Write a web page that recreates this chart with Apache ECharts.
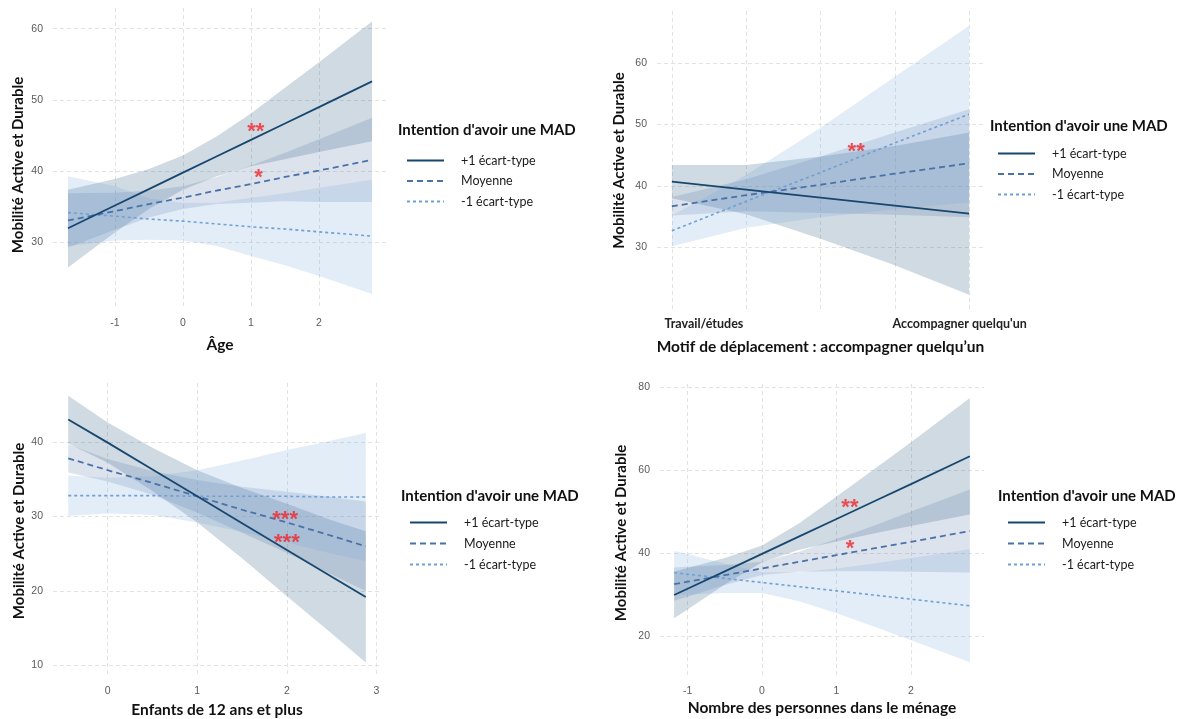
<!DOCTYPE html>
<html>
<head>
<meta charset="utf-8">
<script src="https://cdn.jsdelivr.net/npm/echarts@6/dist/echarts.min.js"></script>
<style>
html,body{margin:0;padding:0;background:#fff;}
#chart{width:1189px;height:719px;}
</style>
</head>
<body>
<div id="chart"></div>
<script>
// ---------- shared texts ----------
const seriesNames = ['+1 écart-type', 'Moyenne', '-1 écart-type'];
const legendTitle = "Intention d'avoir une MAD";
const yTitle = 'Mobilité Active et Durable';
const xTitles = ['Âge', 'Motif de déplacement : accompagner quelqu’un', 'Enfants de 12 ans et plus', 'Nombre des personnes dans le ménage'];

// ---------- Panel 1 : Âge ----------
const p1X = [-1.69, -1, -0.5, 0, 0.5, 1, 1.5, 2, 2.78];
const p1HiLine = [32.0, 35.2, 37.5, 39.8, 42.1, 44.4, 46.7, 49.0, 52.6];
const p1HiLow  = [26.5, 31.4, 34.7, 37.4, 39.3, 40.7, 41.7, 42.7, 44.2];
const p1HiUp   = [37.4, 38.9, 40.3, 42.2, 44.9, 48.1, 51.7, 55.3, 61.0];
const p1MidLine = [33.1, 34.4, 35.4, 36.3, 37.3, 38.2, 39.2, 40.1, 41.6];
const p1MidLow  = [29.3, 31.8, 33.5, 34.7, 35.4, 35.6, 35.8, 35.7, 35.7];
const p1MidUp   = [36.9, 37.0, 37.3, 37.9, 39.2, 40.8, 42.6, 44.5, 47.5];
const p1LoLine = [34.2, 33.7, 33.3, 33.0, 32.6, 32.2, 31.9, 31.5, 30.9];
const p1LoLow  = [29.5, 30.3, 30.4, 30.3, 29.5, 28.1, 26.8, 25.3, 22.8];
const p1LoUp   = [39.3, 37.9, 36.2, 35.6, 35.6, 36.3, 36.9, 37.7, 38.8];
const p1Stars = [[1.07, 46.4, '**'], [1.11, 39.9, '*']];
const p1XTicks = [-1, 0, 1, 2];
const p1YTicks = [30, 40, 50, 60];

// ---------- Panel 2 : Motif ----------
const p2X = [0, 0.25, 0.5, 0.75, 1];
const p2HiLine = [40.7, 39.4, 38.1, 36.8, 35.5];
const p2HiLow  = [38.0, 35.4, 31.4, 27.1, 22.3];
const p2HiUp   = [43.4, 43.4, 44.8, 46.5, 48.7];
const p2MidLine = [36.7, 38.5, 40.2, 42.0, 43.7];
const p2MidLow  = [35.2, 35.9, 35.6, 35.3, 34.9];
const p2MidUp   = [38.2, 41.1, 44.8, 48.7, 52.5];
const p2LoLine = [32.7, 37.5, 42.2, 47.0, 51.7];
const p2LoLow  = [30.2, 33.2, 34.9, 36.2, 37.3];
const p2LoUp   = [35.2, 41.8, 49.5, 57.8, 66.1];
const p2Stars = [[0.62, 46.6, '**']];
const p2XTicks = [0, 0.25, 0.5, 0.75, 1];
const p2XLabelValues = [0, 1];
const p2XLabels = ['Travail/études', "Accompagner quelqu'un"];
const p2YTicks = [30, 40, 50, 60];

// ---------- Panel 3 : Enfants ----------
const p3X = [-0.44, 0, 0.5, 1, 1.5, 2, 2.5, 2.88];
const p3HiLine = [43.0, 39.9, 36.3, 32.7, 29.1, 25.5, 21.9, 19.2];
const p3HiLow  = [39.8, 37.2, 33.4, 29.2, 24.4, 19.3, 14.3, 10.4];
const p3HiUp   = [46.2, 42.6, 39.2, 36.2, 33.8, 31.7, 29.5, 28.0];
const p3MidLine = [37.8, 36.2, 34.5, 32.7, 30.9, 29.2, 27.4, 26.0];
const p3MidLow  = [35.9, 34.7, 32.9, 30.5, 27.8, 25.1, 22.2, 20.0];
const p3MidUp   = [39.7, 37.7, 36.1, 34.9, 34.0, 33.3, 32.6, 32.0];
const p3LoLine = [32.8, 32.8, 32.8, 32.7, 32.7, 32.7, 32.6, 32.6];
const p3LoLow  = [30.1, 30.4, 30.2, 29.2, 27.9, 26.5, 25.0, 24.0];
const p3LoUp   = [35.5, 35.2, 35.4, 36.2, 37.5, 38.9, 40.2, 41.2];
const p3Stars = [[1.98, 30.4, '***'], [2.0, 27.3, '***']];
const p3XTicks = [0, 1, 2, 3];
const p3YTicks = [10, 20, 30, 40];

// ---------- Panel 4 : Ménage ----------
const p4X = [-1.18, -1, -0.5, 0, 0.5, 1, 1.5, 2, 2.79];
const p4HiLine = [30.0, 31.5, 35.7, 39.9, 44.1, 48.3, 52.5, 56.7, 63.4];
const p4HiLow  = [24.4, 26.5, 32.5, 37.9, 40.9, 42.9, 44.8, 46.6, 49.4];
const p4HiUp   = [35.6, 36.5, 38.9, 41.9, 47.3, 53.7, 60.2, 66.8, 77.4];
const p4MidLine = [32.6, 33.2, 34.8, 36.4, 38.0, 39.6, 41.2, 42.8, 45.4];
const p4MidLow  = [28.6, 29.6, 32.4, 34.8, 35.6, 35.7, 35.7, 35.6, 35.4];
const p4MidUp   = [36.6, 36.8, 37.2, 38.0, 40.4, 43.5, 46.7, 50.1, 55.4];
const p4LoLine = [35.4, 35.0, 34.0, 33.0, 32.0, 31.0, 30.0, 29.0, 27.4];
const p4LoLow  = [30.2, 30.1, 30.5, 30.5, 28.5, 25.6, 22.4, 19.1, 13.8];
const p4LoUp   = [40.6, 39.9, 37.5, 35.5, 35.5, 36.4, 37.6, 38.9, 41.0];
const p4Stars = [[1.18, 52.4, '**'], [1.18, 42.5, '*']];
const p4XTicks = [-1, 0, 1, 2];
const p4YTicks = [20, 40, 60, 80];

// ---------- styles ----------
const lineColors = ['#17476f', '#4a72a8', '#6f9fd6'];
const lineTypes = ['solid', [6, 4], [3, 3]];
const lineWidths = [1.8, 1.8, 1.6];
const bandFills = ['rgba(15,70,115,0.2)', 'rgba(85,115,165,0.2)', 'rgba(115,165,215,0.2)'];
const titleFont = 'Lato, "Open Sans", sans-serif';
const tickFont = '"Liberation Sans", Arial, sans-serif';

const panels = [
  { x: p1X, lines: [p1HiLine, p1MidLine, p1LoLine], lows: [p1HiLow, p1MidLow, p1LoLow], ups: [p1HiUp, p1MidUp, p1LoUp], stars: p1Stars,
    xTicks: p1XTicks, yTicks: p1YTicks,
    grid: { left: 53, top: 8, width: 334, height: 298 }, xr: [-1.91, 3.0], yr: [21.1, 62.9],
    xGap: 31, yGap: 27, xMargin: 12, yShift: 16,
    legend: { left: 406, top: 154, gap: 7.5 }, lt: { left: 398, top: 123 } },
  { x: p2X, lines: [p2HiLine, p2MidLine, p2LoLine], lows: [p2HiLow, p2MidLow, p2LoLow], ups: [p2HiUp, p2MidUp, p2LoUp], stars: p2Stars,
    xTicks: p2XTicks, yTicks: p2YTicks,
    grid: { left: 657, top: 11, width: 327, height: 299 }, xr: [-0.05, 1.05], yr: [19.8, 68.5],
    xGap: 29, yGap: 30, xMargin: 7, yShift: 0,
    legend: { left: 997, top: 147, gap: 7.5 }, lt: { left: 990, top: 119 } },
  { x: p3X, lines: [p3HiLine, p3MidLine, p3LoLine], lows: [p3HiLow, p3MidLow, p3LoLow], ups: [p3HiUp, p3MidUp, p3LoUp], stars: p3Stars,
    xTicks: p3XTicks, yTicks: p3YTicks,
    grid: { left: 53, top: 383, width: 328, height: 295 }, xr: [-0.61, 3.05], yr: [8.6, 47.9],
    xGap: 26, yGap: 26, xMargin: 10, yShift: 3,
    legend: { left: 409, top: 516, gap: 8 }, lt: { left: 401, top: 489 } },
  { x: p4X, lines: [p4HiLine, p4MidLine, p4LoLine], lows: [p4HiLow, p4MidLow, p4LoLow], ups: [p4HiUp, p4MidUp, p4LoUp], stars: p4Stars,
    xTicks: p4XTicks, yTicks: p4YTicks,
    grid: { left: 660, top: 384, width: 324, height: 292 }, xr: [-1.37, 2.98], yr: [10.5, 80.8],
    xGap: 24, yGap: 31, xMargin: 10, yShift: 6,
    legend: { left: 1007, top: 516, gap: 8 }, lt: { left: 998, top: 489 } }
];

const grids = [], xAxes = [], yAxes = [], series = [], legends = [], titles = [];

function bandRender(fill) {
  return function (params, api) {
    if (params.dataIndexInside !== 0) return null;
    const n = params.dataInsideLength;
    const pts = [];
    for (let i = 0; i < n; i++) pts.push(api.coord([api.value(0, i), api.value(2, i)]));
    for (let i = n - 1; i >= 0; i--) pts.push(api.coord([api.value(0, i), api.value(1, i)]));
    return { type: 'polygon', shape: { points: pts }, style: { fill: fill, stroke: null } };
  };
}

panels.forEach((p, pi) => {
  grids.push(Object.assign({ containLabel: false }, p.grid));
  const splitLine = { show: true, lineStyle: { color: '#e3e3e3', width: 1, type: [4, 3] } };
  const xAxis = {
    type: 'value', gridIndex: pi, min: p.xr[0], max: p.xr[1],
    axisLine: { show: false },
    axisTick: { show: false, customValues: p.xTicks },
    splitLine: splitLine,
    axisLabel: { customValues: p.xTicks, color: '#5a5a5a', fontSize: 10.5, fontFamily: tickFont, margin: p.xMargin },
    name: xTitles[pi], nameLocation: 'middle', nameGap: p.xGap,
    nameTextStyle: { fontFamily: titleFont, fontWeight: 'bold', fontSize: 15.5, color: '#111' }
  };
  if (pi === 1) {
    xAxis.axisLabel = {
      customValues: p2XLabelValues, margin: p.xMargin,
      formatter: (v) => v === p2XLabelValues[0] ? '{l|' + p2XLabels[0] + '}' : '{r|' + p2XLabels[1] + '}',
      rich: {
        l: { padding: [0, 0, 0, 64], fontFamily: titleFont, fontWeight: 'bold', fontSize: 12.5, color: '#222' },
        r: { padding: [0, 19, 0, 0], fontFamily: titleFont, fontWeight: 'bold', fontSize: 12.5, color: '#222' }
      }
    };
  }
  xAxes.push(xAxis);
  yAxes.push({
    type: 'value', gridIndex: pi, min: p.yr[0], max: p.yr[1],
    axisLine: { show: false },
    axisTick: { show: false, customValues: p.yTicks },
    splitLine: splitLine,
    axisLabel: { customValues: p.yTicks, color: '#5a5a5a', fontSize: 10.5, fontFamily: tickFont, margin: 10 },
    name: yTitle, nameLocation: 'middle', nameGap: p.yGap,
    nameTextStyle: { fontFamily: titleFont, fontWeight: 'bold', fontSize: 15, color: '#111',
                     padding: [0, p.yShift, 0, 0] }
  });
  // bands
  for (let k = 0; k < 3; k++) {
    series.push({
      type: 'custom', xAxisIndex: pi, yAxisIndex: pi, silent: true, z: 1,
      renderItem: bandRender(bandFills[k]),
      encode: { x: 0, y: [1, 2] },
      data: p.x.map((xv, i) => [xv, p.lows[k][i], p.ups[k][i]])
    });
  }
  // lines
  for (let k = 2; k >= 0; k--) {
    series.push({
      type: 'line', name: seriesNames[k], xAxisIndex: pi, yAxisIndex: pi, z: 3,
      symbol: 'none', showSymbol: false, silent: true,
      itemStyle: { color: lineColors[k] },
      lineStyle: { color: lineColors[k], width: lineWidths[k], type: lineTypes[k] },
      data: p.x.map((xv, i) => [xv, p.lines[k][i]])
    });
  }
  // significance stars
  series.push({
    type: 'scatter', xAxisIndex: pi, yAxisIndex: pi, z: 5, silent: true,
    symbolSize: 0,
    data: p.stars.map(s => ({ value: [s[0], s[1]], label: { formatter: s[2] } })),
    label: { show: true, position: 'inside', color: '#f0262b', fontSize: 22, fontWeight: 'bold',
             fontFamily: tickFont, offset: [0, 6] }
  });
  legends.push({
    orient: 'vertical', left: p.legend.left, top: p.legend.top, padding: 0,
    itemWidth: 37, itemHeight: 14, itemGap: p.legend.gap,
    data: seriesNames.slice(), selectedMode: false,
    itemStyle: { opacity: 0 },
    formatter: (name) => '{t|' + name + '}',
    textStyle: { rich: { t: { padding: [0, 0, 0, 12], fontFamily: titleFont, fontSize: 12.5, color: '#1a1a1a' } } }
  });
  titles.push({
    text: legendTitle, left: p.lt.left, top: p.lt.top, padding: 0,
    textStyle: { fontFamily: titleFont, fontWeight: 'bold', fontSize: 15, color: '#111' }
  });
});

const chart = echarts.init(document.getElementById('chart'), null, { renderer: 'canvas' });
chart.setOption({
  animation: false,
  backgroundColor: '#ffffff',
  title: titles,
  legend: legends,
  grid: grids,
  xAxis: xAxes,
  yAxis: yAxes,
  series: series
});
</script>
</body>
</html>
